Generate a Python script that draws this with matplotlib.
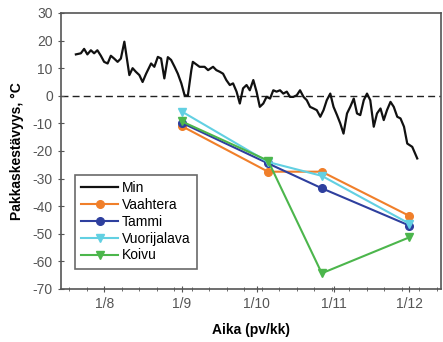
import matplotlib
matplotlib.use("Agg")
import matplotlib.pyplot as plt
import numpy as np

plt.rcParams["font.family"] = ["Liberation Sans", "DejaVu Sans"]
plt.rcParams["axes.unicode_minus"] = False

# day of year -> tick label
tick_days = [213, 244, 274, 305, 335]
tick_labels = ["1/8", "1/9", "1/10", "1/11", "1/12"]

# daily minimum temperature
min_days = [201.6, 203.6, 204.9, 206.2, 207.6, 208.9, 210.2, 211.6, 212.9, 214.3,
            215.6, 216.9, 218.3, 219.6, 221.0, 223.0, 224.3, 225.6, 227.0, 228.3,
            229.7, 231.7, 233.0, 234.4, 235.7, 237.0, 238.4, 239.7, 241.1, 242.4,
            243.8, 245.1, 246.4, 247.8, 248.4, 251.1, 253.1, 254.5, 256.5, 257.8,
            259.2, 260.5, 261.8, 263.2, 264.5, 265.9, 267.2, 268.5, 269.9, 271.2,
            272.6, 273.9, 275.2, 276.6, 277.9, 279.3, 280.6, 281.9, 283.3, 284.6,
            286.0, 287.3, 288.6, 290.0, 291.3, 292.7, 294.0, 295.3, 296.7, 298.0,
            299.4, 300.7, 302.0, 303.4, 304.7, 306.1, 307.4, 308.7, 310.1, 311.4,
            312.8, 314.1, 315.4, 316.8, 318.1, 319.4, 320.8, 322.1, 323.5, 324.8,
            326.1, 327.5, 328.8, 330.2, 331.5, 332.9, 334.2, 336.2, 338.2]
min_temp = [15.0, 15.4, 17.0, 15.0, 16.5, 15.4, 16.5, 14.5, 12.3, 11.7,
            14.5, 13.5, 12.3, 13.5, 19.6, 7.5, 10.0, 8.7, 7.5, 5.0,
            8.0, 11.7, 10.5, 14.1, 13.5, 6.3, 14.0, 13.0, 10.5, 8.0,
            4.5, 0.2, 0.0, 9.3, 12.3, 10.5, 10.5, 9.3, 10.5, 9.3,
            8.7, 8.0, 5.7, 3.9, 4.5, 1.5, -2.8, 2.7, 3.9, 2.0,
            5.7, 1.5, -4.0, -2.8, -0.4, -1.0, 2.0, 1.5, 2.0, 0.8,
            1.5, -0.4, -0.4, 0.2, 2.0, -0.4, -1.6, -4.0, -4.6, -5.2,
            -7.6, -5.2, -1.6, 0.8, -4.0, -7.0, -10.0, -13.7, -6.4, -4.0,
            -1.0, -6.4, -7.0, -1.6, 0.8, -1.6, -11.2, -6.4, -4.6, -8.8,
            -5.2, -2.2, -4.0, -7.6, -8.2, -11.2, -17.3, -18.5, -22.7]

# frost hardiness of the species
sample_days = [244, 278.5, 300, 335]
vaahtera = [-11.0, -27.5, -27.5, -43.5]
tammi = [-9.8, -24.5, -33.5, -47.0]
vuorijalava = [-5.7, -24.0, -29.0, -46.3]
koivu = [-9.3, -23.5, -64.3, -51.3]

fig = plt.figure(figsize=(4.43, 3.42), dpi=100)
ax = fig.add_axes([0.138, 0.155, 0.858, 0.807])

ax.axhline(0, color="#222222", lw=1.0, ls=(0, (5, 3)), zorder=1)
ax.plot(min_days, min_temp, color="#111111", lw=1.6, label="Min", zorder=3)
ax.plot(sample_days, vaahtera, color="#f07f2a", lw=1.5, marker="o", ms=5.5,
        label="Vaahtera", zorder=4)
ax.plot(sample_days, tammi, color="#2e3f9e", lw=1.5, marker="o", ms=5.5,
        label="Tammi", zorder=4)
ax.plot(sample_days, vuorijalava, color="#62d0e2", lw=1.5, marker="v", ms=5.5,
        label="Vuorijalava", zorder=4)
ax.plot(sample_days, koivu, color="#4cb64c", lw=1.5, marker="v", ms=5.5,
        label="Koivu", zorder=4)

ax.set_xlim(195.7, 347.8)
ax.set_ylim(-70, 30)
ax.set_xticks(tick_days)
ax.set_xticklabels(tick_labels)
ax.set_xticks(np.arange(199, 348, 7), minor=True)
ax.set_yticks(np.arange(-70, 31, 10))

for s in ax.spines.values():
    s.set_color("#555555")
    s.set_linewidth(1.2)
ax.tick_params(which="major", direction="inout", length=4, width=0.8,
               color="#555555", labelsize=10, labelcolor="#555555")
ax.tick_params(which="minor", direction="inout", length=2.5, width=0.6,
               color="#555555")
ax.tick_params(axis="y", pad=4)

ax.set_xlabel("Aika (pv/kk)", fontsize=10, fontweight="bold", labelpad=9)
ax.set_ylabel("Pakkaskestävyys, °C", fontsize=10, fontweight="bold", labelpad=6)

leg = ax.legend(loc="upper left", bbox_to_anchor=(0.037, 0.413), fontsize=10,
                frameon=True, fancybox=False, handlelength=2.6,
                borderpad=0.45, labelspacing=0.2, handletextpad=0.3,
                borderaxespad=0)
leg.get_frame().set_edgecolor("#444444")
leg.get_frame().set_linewidth(1.2)

fig.savefig("out.png", dpi=100)
